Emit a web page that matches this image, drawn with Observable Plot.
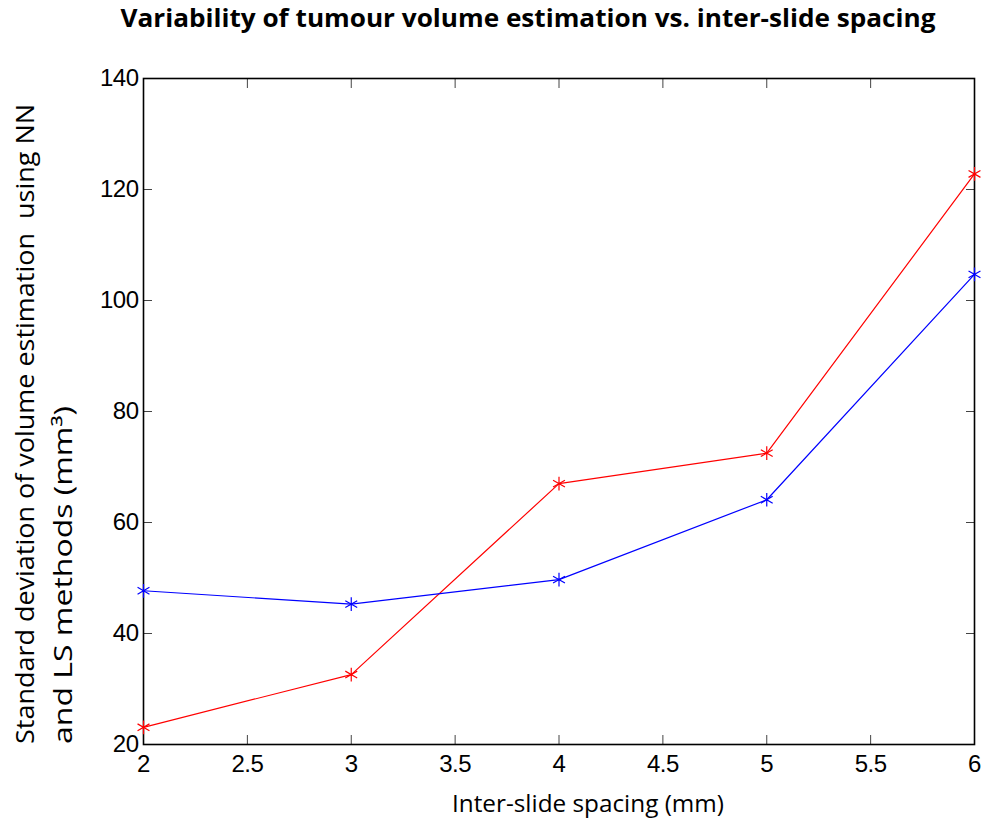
<!DOCTYPE html>
<html>
<head>
<meta charset="utf-8">
<script src="https://cdn.jsdelivr.net/npm/d3@7"></script>
<script src="https://cdn.jsdelivr.net/npm/@observablehq/plot@0.6"></script>
<style>
  html, body { margin: 0; padding: 0; background: #fff; }
  #chart svg { display: block; }
</style>
</head>
<body>
<div id="chart"></div>
<script>
const spacing = [2, 3, 4, 5, 6];
const redValues = [23.1, 32.6, 67.0, 72.5, 122.8];
const blueValues = [47.7, 45.3, 49.7, 64.1, 104.7];
const xTicks = [2, 2.5, 3, 3.5, 4, 4.5, 5, 5.5, 6];
const yTicks = [20, 40, 60, 80, 100, 120, 140];
const titleText = "Variability of tumour volume estimation vs. inter-slide spacing";
const xLabel = "Inter-slide spacing (mm)";
const yLabel1 = "Standard deviation of volume estimation\u00a0 using NN";
const yLabel2 = "and LS methods (mm\u00b3)";

const red = spacing.map((x, i) => ({x, y: redValues[i]}));
const blue = spacing.map((x, i) => ({x, y: blueValues[i]}));

const tickFont = {fontSize: 24, fontFamily: "Liberation Sans, Arial, sans-serif"};
const blank = () => "";

const plot = Plot.plot({
  width: 988,
  height: 824,
  marginLeft: 143,
  marginRight: 14,
  marginTop: 78,
  marginBottom: 80,
  style: {background: "#fff", color: "#000", overflow: "visible"},
  x: {domain: [2, 6]},
  y: {domain: [20, 140]},
  marks: [
    Plot.axisX(xTicks, {anchor: "bottom", tickSize: 0, tickPadding: 10, label: null, ...tickFont, tickFormat: d => String(d)}),
    Plot.axisY(yTicks, {anchor: "left", tickSize: 0, tickPadding: 5, label: null, ...tickFont, tickFormat: d => String(d)}),
    Plot.axisX(xTicks, {anchor: "bottom", tickSize: -9, tickFormat: blank, label: null, stroke: "#444"}),
    Plot.axisX(xTicks, {anchor: "top", tickSize: -9, tickFormat: blank, label: null, stroke: "#444"}),
    Plot.axisY(yTicks, {anchor: "left", tickSize: -9, tickFormat: blank, label: null, stroke: "#444"}),
    Plot.axisY(yTicks, {anchor: "right", tickSize: -9, tickFormat: blank, label: null, stroke: "#444"}),
    Plot.frame({stroke: "#000", strokeWidth: 1.6}),
    Plot.line(red, {x: "x", y: "y", stroke: "#ff0000", strokeWidth: 1.2}),
    Plot.line(blue, {x: "x", y: "y", stroke: "#0000ff", strokeWidth: 1.2}),
    Plot.dot(red, {x: "x", y: "y", symbol: "asterisk", stroke: "#ff0000", strokeWidth: 1.2, r: 6.5}),
    Plot.dot(blue, {x: "x", y: "y", symbol: "asterisk", stroke: "#0000ff", strokeWidth: 1.2, r: 6.5})
  ]
});

const svg = d3.select(plot);
svg.selectAll("g[aria-label='x-axis tick label'] text, g[aria-label='y-axis tick label'] text")
  .attr("letter-spacing", "-0.5");

svg.append("text")
  .attr("x", 528).attr("y", 27)
  .attr("text-anchor", "middle")
  .attr("font-family", "Open Sans, Lato, sans-serif")
  .attr("font-weight", "bold")
  .attr("font-size", 25)
  .attr("textLength", 815)
  .attr("lengthAdjust", "spacingAndGlyphs")
  .attr("fill", "#000")
  .text(titleText);

svg.append("text")
  .attr("x", 588).attr("y", 812)
  .attr("text-anchor", "middle")
  .attr("font-family", "Open Sans, Lato, sans-serif")
  .attr("font-size", 23)
  .attr("textLength", 272)
  .attr("lengthAdjust", "spacingAndGlyphs")
  .attr("fill", "#000")
  .text(xLabel);

svg.append("text")
  .attr("transform", "translate(34,744) rotate(-90)")
  .attr("text-anchor", "start")
  .attr("font-family", "Open Sans, Lato, sans-serif")
  .attr("font-size", 25)
  .attr("textLength", 640)
  .attr("lengthAdjust", "spacingAndGlyphs")
  .attr("fill", "#000")
  .text(yLabel1);

svg.append("text")
  .attr("transform", "translate(72,744) rotate(-90)")
  .attr("text-anchor", "start")
  .attr("font-family", "Open Sans, Lato, sans-serif")
  .attr("font-size", 25)
  .attr("textLength", 338)
  .attr("lengthAdjust", "spacingAndGlyphs")
  .attr("fill", "#000")
  .text(yLabel2);

document.getElementById("chart").appendChild(plot);
</script>
</body>
</html>
